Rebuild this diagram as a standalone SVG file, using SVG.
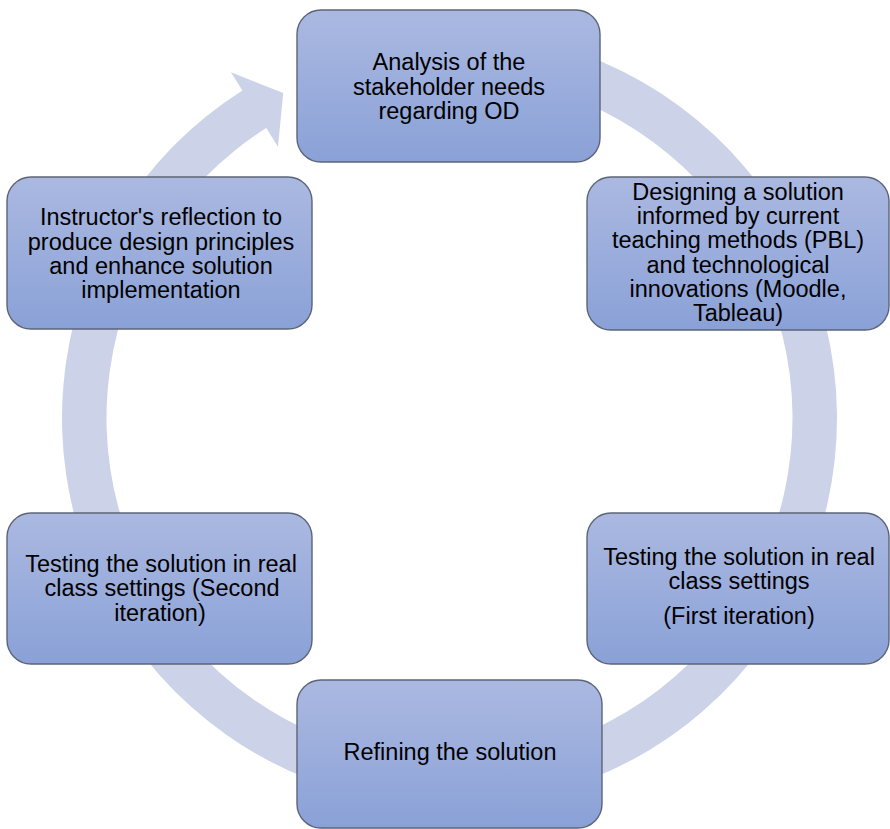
<svg xmlns="http://www.w3.org/2000/svg" width="890" height="829" viewBox="0 0 890 829">
  <defs>
    <linearGradient id="boxGrad" x1="0" y1="0" x2="0" y2="1">
      <stop offset="0" stop-color="#abb9e1"/>
      <stop offset="1" stop-color="#8aa1d7"/>
    </linearGradient>
    <style>
      .box { fill: url(#boxGrad); stroke: #5c6477; stroke-width: 1.4; }
      .lbl { font-family: "Liberation Sans", Arial, sans-serif; font-size: 23.5px; fill: #000; text-anchor: middle; }
      .ring { fill: #ccd2e8; stroke: none; }
    </style>
  </defs>
  <rect width="890" height="829" fill="#ffffff"/>

  <g id="connectors">
    <path class="ring" d="M 516.79 36.39 A 387.5 387.5 0 1 1 242.44 90.46 L 230.95 72.29 L 283.23 93.07 L 277.97 146.67 L 266.22 128.08 A 343 343 0 1 0 509.06 80.21 Z"/>
  </g>

  <g id="node-analysis">
    <rect class="box" x="297" y="10" width="303" height="152" rx="24" ry="24"/>
    <text class="lbl" x="449" y="70">Analysis of the</text>
    <text class="lbl" x="449" y="94.5">stakeholder needs</text>
    <text class="lbl" x="449" y="119">regarding OD</text>
  </g>

  <g id="node-design">
    <rect class="box" x="587" y="177" width="302" height="153" rx="24" ry="24"/>
    <text class="lbl" x="738" y="200">Designing a solution</text>
    <text class="lbl" x="738" y="224.2">informed by current</text>
    <text class="lbl" x="738" y="248.4">teaching methods (PBL)</text>
    <text class="lbl" x="738" y="272.6">and technological</text>
    <text class="lbl" x="738" y="296.8">innovations (Moodle,</text>
    <text class="lbl" x="738" y="321">Tableau)</text>
  </g>

  <g id="node-test1">
    <rect class="box" x="587" y="513" width="302" height="151" rx="24" ry="24"/>
    <text class="lbl" x="739" y="565">Testing the solution in real</text>
    <text class="lbl" x="739" y="589">class settings</text>
    <text class="lbl" x="739" y="624">(First iteration)</text>
  </g>

  <g id="node-refine">
    <rect class="box" x="297" y="680" width="305" height="148" rx="24" ry="24"/>
    <text class="lbl" x="450" y="760">Refining the solution</text>
  </g>

  <g id="node-test2">
    <rect class="box" x="7" y="513" width="305" height="151" rx="24" ry="24"/>
    <text class="lbl" x="161" y="572">Testing the solution in real</text>
    <text class="lbl" x="162" y="596"> class settings (Second</text>
    <text class="lbl" x="160" y="620.5">iteration)</text>
  </g>

  <g id="node-reflect">
    <rect class="box" x="7" y="177" width="305" height="152" rx="24" ry="24"/>
    <text class="lbl" x="161" y="225">Instructor's reflection to</text>
    <text class="lbl" x="161" y="249.5">produce design principles</text>
    <text class="lbl" x="161" y="273.5">and enhance solution</text>
    <text class="lbl" x="161" y="297.5">implementation</text>
  </g>
</svg>
